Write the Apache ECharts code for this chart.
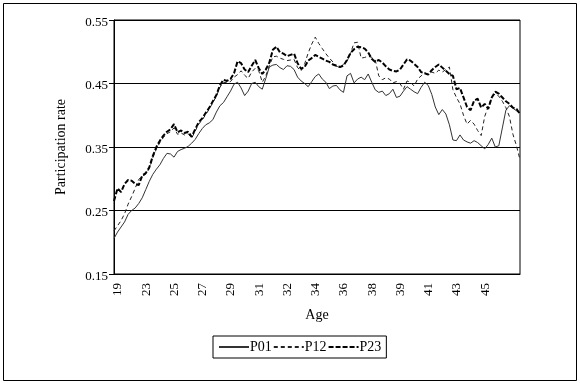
<!DOCTYPE html>
<html>
<head>
<meta charset="utf-8">
<script src="https://cdn.jsdelivr.net/npm/echarts@6/dist/echarts.min.js"></script>
<style>
html,body{margin:0;padding:0;background:#fff;}
#chart{width:580px;height:383px;}
</style>
</head>
<body>
<div id="chart"></div>
<script>
// Tick labels shown along the age axis (one every 8 observations)
const tickLabels = ['19','23','25','27','29','31','32','34','36','38','39','41','43','45'];
const labelStep = 8;

const p01 = [
0.206,0.216,0.224,0.232,0.244,0.250,0.254,0.261,0.270,0.283,
0.296,0.307,0.315,0.322,0.332,0.340,0.339,0.334,0.343,0.346,
0.348,0.351,0.356,0.362,0.371,0.379,0.385,0.388,0.393,0.405,
0.415,0.420,0.429,0.438,0.449,0.452,0.443,0.431,0.438,0.450,
0.452,0.445,0.441,0.458,0.476,0.479,0.480,0.475,0.472,0.478,
0.477,0.472,0.460,0.454,0.450,0.445,0.453,0.461,0.465,0.457,
0.452,0.442,0.446,0.447,0.440,0.436,0.462,0.466,0.451,0.457,
0.460,0.456,0.465,0.452,0.440,0.436,0.438,0.431,0.434,0.441,
0.428,0.430,0.438,0.445,0.441,0.437,0.434,0.444,0.452,0.447,
0.433,0.413,0.401,0.409,0.402,0.385,0.361,0.360,0.369,0.361,
0.358,0.356,0.360,0.357,0.352,0.347,0.354,0.364,0.350,0.352,
0.380,0.408,0.415,0.411,0.407,0.404
];
const p12 = [
0.218,0.226,0.234,0.245,0.260,0.272,0.285,0.299,0.304,0.307,
0.316,0.333,0.347,0.357,0.365,0.371,0.374,0.380,0.370,0.372,
0.369,0.371,0.364,0.375,0.386,0.393,0.401,0.410,0.420,0.430,
0.444,0.452,0.451,0.453,0.460,0.464,0.470,0.463,0.458,0.468,
0.474,0.470,0.452,0.462,0.478,0.492,0.493,0.490,0.488,0.486,
0.487,0.488,0.475,0.470,0.481,0.498,0.512,0.523,0.513,0.505,
0.497,0.490,0.484,0.477,0.476,0.480,0.485,0.498,0.514,0.515,
0.490,0.491,0.493,0.491,0.487,0.462,0.456,0.459,0.457,0.451,
0.453,0.450,0.441,0.454,0.452,0.446,0.457,0.462,0.467,0.465,
0.468,0.466,0.471,0.468,0.472,0.476,0.440,0.428,0.418,0.400,
0.386,0.392,0.386,0.376,0.368,0.398,0.414,0.428,0.434,0.430,
0.422,0.412,0.398,0.370,0.352,0.330
];
const p23 = [
0.265,0.285,0.279,0.292,0.298,0.297,0.292,0.290,0.305,0.309,
0.318,0.336,0.350,0.360,0.368,0.374,0.378,0.386,0.373,0.376,
0.372,0.374,0.366,0.378,0.389,0.395,0.404,0.412,0.422,0.432,
0.447,0.456,0.454,0.457,0.466,0.485,0.482,0.472,0.468,0.478,
0.487,0.474,0.465,0.472,0.483,0.503,0.508,0.499,0.497,0.493,
0.495,0.497,0.482,0.473,0.476,0.486,0.490,0.495,0.492,0.489,
0.486,0.484,0.480,0.478,0.476,0.478,0.487,0.498,0.504,0.508,
0.507,0.505,0.499,0.489,0.484,0.487,0.483,0.477,0.472,0.470,
0.469,0.472,0.480,0.488,0.486,0.481,0.476,0.468,0.466,0.464,
0.471,0.476,0.480,0.475,0.470,0.465,0.462,0.441,0.443,0.428,
0.413,0.408,0.423,0.426,0.412,0.418,0.410,0.428,0.437,0.434,
0.428,0.422,0.418,0.412,0.410,0.402
];

const seriesNames = ['P01','P12','P23'];
const FONT = 'Liberation Serif';

function pairs(arr){ return arr.map((v,i)=>[i,v]); }

const chart = echarts.init(document.getElementById('chart'), null, {renderer:'canvas'});
chart.setOption({
  animation:false,
  backgroundColor:'#fff',
  textStyle:{fontFamily:FONT,color:'#000'},
  graphic:[{
    type:'rect', silent:true,
    shape:{x:3.5,y:3.5,width:573,height:377},
    style:{fill:'none',stroke:'#000',lineWidth:1}
  }],
  grid:{left:114,right:60,top:20,bottom:109,show:true,borderColor:'#000',borderWidth:1,backgroundColor:'transparent'},
  legend:{
    data:seriesNames,
    left:213, top:336,
    orient:'horizontal',
    itemWidth:30, itemHeight:14, itemGap:1,
    padding:[4,5,4,5],
    borderColor:'#000', borderWidth:1,
    itemStyle:{color:'transparent',borderColor:'transparent',borderWidth:0,opacity:0},
    textStyle:{fontFamily:FONT,fontSize:14,color:'#000',padding:[0,0,0,-4]}
  },
  xAxis:{
    type:'value',
    min:0, max:p01.length-1, interval:labelStep,
    name:'Age', nameLocation:'middle', nameGap:34,
    nameTextStyle:{fontFamily:FONT,fontSize:14,color:'#000'},
    axisLine:{show:true,lineStyle:{color:'#000',width:1}},
    axisTick:{show:false},
    splitLine:{show:false},
    axisLabel:{
      rotate:90, margin:9, fontFamily:FONT, fontSize:13, color:'#000',
      verticalAlign:'top', lineHeight:8,
      formatter:function(v){ const k=v/labelStep; return Number.isInteger(k)&&tickLabels[k]!==undefined?tickLabels[k]:''; }
    }
  },
  yAxis:{
    type:'value',
    min:0.15, max:0.55, interval:0.1,
    name:'Participation rate', nameLocation:'middle', nameGap:46,
    nameTextStyle:{fontFamily:FONT,fontSize:14,color:'#000'},
    axisLine:{show:true,lineStyle:{color:'#000',width:1}},
    axisTick:{show:true,inside:false,length:5,lineStyle:{color:'#000'}},
    splitLine:{show:true,lineStyle:{color:'#000',width:1}},
    axisLabel:{
      margin:6, fontFamily:FONT, fontSize:13, color:'#000',
      verticalAlign:'top', lineHeight:5,
      formatter:function(v){ return v.toFixed(2); }
    }
  },
  series:[
    {name:'P01',type:'line',data:pairs(p01),symbol:'none',
     lineStyle:{color:'#333',width:1,type:'solid'},itemStyle:{color:'#333'}},
    {name:'P12',type:'line',data:pairs(p12),symbol:'none',
     lineStyle:{color:'#222',width:1,type:[4,3]},itemStyle:{color:'#222'}},
    {name:'P23',type:'line',data:pairs(p23),symbol:'none',
     lineStyle:{color:'#000',width:2,type:[5,2]},itemStyle:{color:'#000'}}
  ]
});
</script>
</body>
</html>
